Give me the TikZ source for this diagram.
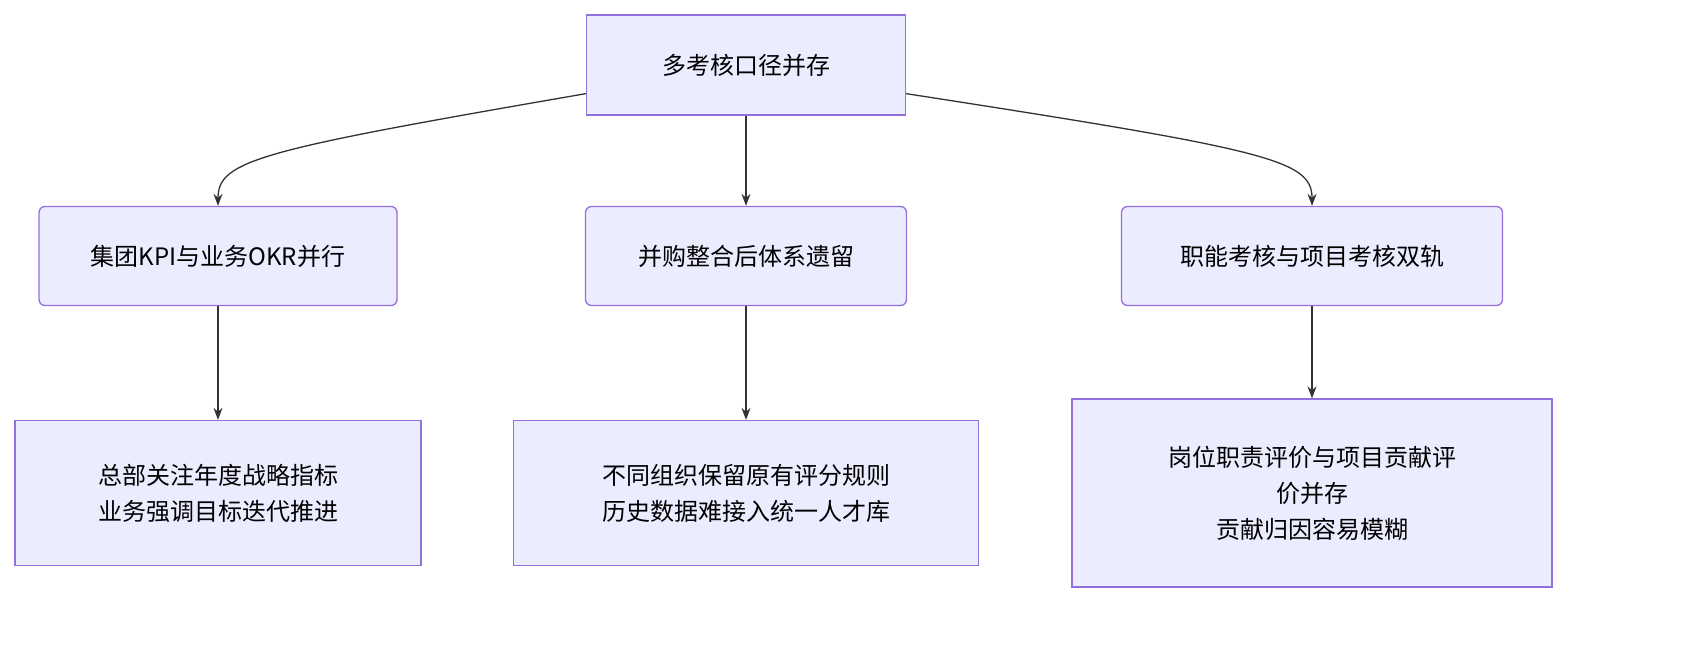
\documentclass[tikz,border=0pt]{standalone}
\usepackage{fontspec}
\setmainfont{Noto Sans CJK SC}
\usetikzlibrary{positioning, calc}
\usetikzlibrary{arrows.meta}
\definecolor{boxfill}{HTML}{ECECFF}
\definecolor{boxline}{HTML}{9370DB}
\definecolor{edgecol}{HTML}{333333}
\begin{document}
\begin{tikzpicture}[x=0.5pt,y=-0.5pt,>={Stealth[length=6pt,width=4.5pt]},draw=edgecol]
	\fontsize{12}{18}\selectfont
	\tikzstyle{b-node}=[rectangle,draw=boxline,fill=boxfill,line width=0.65pt,inner sep=0pt,align=center]
	\tikzstyle{r-node}=[b-node,rounded corners=3pt]
	\tikzstyle{link}=[->,line width=0.65pt,draw=edgecol]

	\useasboundingbox (0,0) rectangle (1696,652);

	% top
	\node[b-node,minimum width=159.5pt,minimum height=50pt] (root) at (746,65) {多考核口径并存};

	% middle row
	\node[r-node,minimum width=179pt,minimum height=49.5pt] (kpi)   at (218,256)  {集团KPI与业务OKR并行};
	\node[r-node,minimum width=160.5pt,minimum height=49.5pt] (merge) at (746,256)  {并购整合后体系遗留};
	\node[r-node,minimum width=190.5pt,minimum height=49.5pt] (dual)  at (1312,256) {职能考核与项目考核双轨};

	% bottom row
	\node[b-node,minimum width=203pt,minimum height=72.5pt] (hq)    at (218,493)  {总部关注年度战略指标\\业务强调目标迭代推进};
	\node[b-node,minimum width=232.5pt,minimum height=72.5pt] (rules) at (746,493)  {不同组织保留原有评分规则\\历史数据难接入统一人才库};
	\node[b-node,minimum width=240pt,minimum height=94pt] (blur)  at (1312,493) {岗位职责评价与项目贡献评\\价并存\\贡献归因容易模糊};

	\coordinate (rl) at ($(root.south west)+(0,-22)$);
	\coordinate (rr) at ($(root.south east)+(0,-22)$);

	\draw[link] (rl) .. controls (260,150) and (218,160) .. (kpi.north);
	\draw[link] (root) -- (merge);
	\draw[link] (rr) .. controls (1270,150) and (1312,160) .. (dual.north);

	\draw[link] (kpi) -- (hq);
	\draw[link] (merge) -- (rules);
	\draw[link] (dual) -- (blur);
\end{tikzpicture}
\end{document}
